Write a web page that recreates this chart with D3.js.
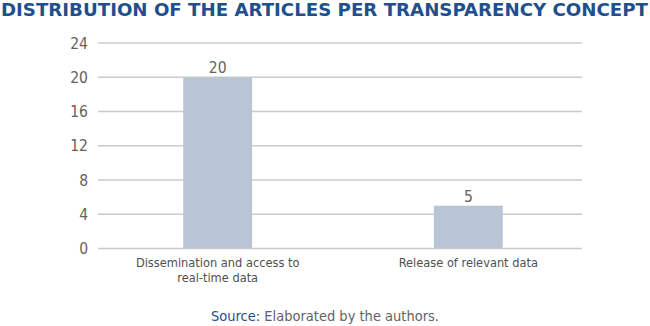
<!DOCTYPE html>
<html>
<head>
<meta charset="utf-8">
<script src="https://cdn.jsdelivr.net/npm/d3@7"></script>
<style>
  body { margin: 0; background: #fff; }
  svg { display: block; }
  .cond { font-family: "Liberation Sans Narrow", "DejaVu Sans Condensed", "Roboto Condensed", sans-serif; }
</style>
</head>
<body>
<svg id="chart" width="650" height="326"></svg>
<script>
const categories = [['Dissemination and access to', 'real-time data'], ['Release of relevant data']]
const values = [20, 5]
const yTicks = [0, 4, 8, 12, 16, 20, 24]

const plot = { left: 98, right: 582, top: 43, bottom: 248.5 }

const svg = d3.select('#chart')

// title
svg.append('text')
  .attr('class', 'cond')
  .attr('x', 1)
  .attr('y', 16)
  .attr('textLength', 647)
  .attr('lengthAdjust', 'spacingAndGlyphs')
  .attr('fill', '#1f4f8c')
  .attr('font-size', 18.5)
  .attr('font-weight', 'bold')
  .text('DISTRIBUTION OF THE ARTICLES PER TRANSPARENCY CONCEPT')

const x = d3.scaleBand()
  .domain(d3.range(values.length))
  .range([plot.left, 588])
  .paddingInner(0.725)
  .paddingOuter(0.34)

const y = d3.scaleLinear()
  .domain([0, 24])
  .range([plot.bottom, plot.top])

// gridlines
svg.append('g')
  .selectAll('line')
  .data(yTicks)
  .join('line')
    .attr('x1', plot.left)
    .attr('x2', plot.right)
    .attr('y1', d => y(d))
    .attr('y2', d => y(d))
    .attr('stroke', '#cbcbcb')
    .attr('stroke-width', 1.5)

// y tick labels
svg.append('g')
  .selectAll('text')
  .data(yTicks)
  .join('text')
    .attr('class', 'cond')
    .attr('x', 88)
    .attr('y', d => y(d) + 5.5)
    .attr('text-anchor', 'end')
    .attr('fill', '#626262')
    .attr('font-size', 15.5)
    .text(d => d)

// bars
svg.append('g')
  .selectAll('rect')
  .data(values)
  .join('rect')
    .attr('x', (d, i) => x(i))
    .attr('y', d => y(d))
    .attr('width', x.bandwidth())
    .attr('height', d => y(0) - y(d))
    .attr('fill', '#b9c5d4')

// value labels
svg.append('g')
  .selectAll('text')
  .data(values)
  .join('text')
    .attr('class', 'cond')
    .attr('x', (d, i) => x(i) + x.bandwidth() / 2)
    .attr('y', d => y(d) - 4)
    .attr('text-anchor', 'middle')
    .attr('fill', '#626262')
    .attr('font-size', 15.5)
    .text(d => d)

// category labels
const cat = svg.append('g')
  .selectAll('text')
  .data(categories)
  .join('text')
    .attr('class', 'cond')
    .attr('y', 266.5)
    .attr('text-anchor', 'middle')
    .attr('fill', '#505050')
    .attr('font-size', 12.7)

cat.selectAll('tspan')
  .data((d, i) => d.map(t => ({ t, i })))
  .join('tspan')
    .attr('x', d => x(d.i) + x.bandwidth() / 2)
    .attr('dy', (d, j) => j === 0 ? 0 : 15)
    .text(d => d.t)

// source
const src = svg.append('text')
  .attr('class', 'cond')
  .attr('x', 325)
  .attr('y', 321)
  .attr('text-anchor', 'middle')
  .attr('font-size', 14.5)
src.append('tspan').attr('fill', '#1f4f8c').text('Source:')
src.append('tspan').attr('fill', '#626262').text(' Elaborated by the authors.')
</script>
</body>
</html>
